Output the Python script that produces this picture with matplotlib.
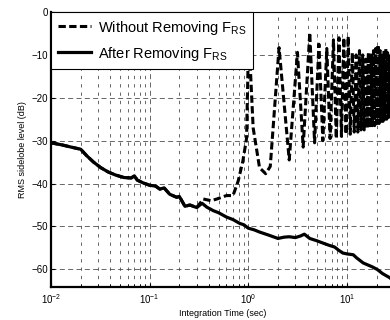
import matplotlib
matplotlib.use("Agg")
import matplotlib.pyplot as plt
from matplotlib.ticker import LogLocator, FixedLocator, NullFormatter

plt.rcParams["font.family"] = ["Liberation Sans", "DejaVu Sans"]
plt.rcParams["mathtext.fontset"] = "custom"
plt.rcParams["mathtext.rm"] = "Liberation Sans"
plt.rcParams["mathtext.it"] = "Liberation Sans:italic"
plt.rcParams["mathtext.default"] = "regular"

# common part of both curves (before they split)
shared_t = [0.01, 0.013, 0.016, 0.02, 0.023, 0.027, 0.032, 0.038, 0.045, 0.055,
            0.065, 0.07, 0.075, 0.085, 0.1, 0.115, 0.127, 0.14, 0.16, 0.188,
            0.2, 0.228, 0.256, 0.3]
shared_db = [-30.5, -31.0, -31.5, -32.0, -33.5, -35.0, -36.3, -37.3, -38.0, -38.6,
             -38.7, -38.2, -39.2, -39.8, -40.4, -40.6, -41.3, -41.0, -42.5, -43.2,
             -43.0, -45.3, -45.0, -45.6]

# after removing F_RS
after_t = [0.34, 0.38, 0.44, 0.5, 0.6, 0.7, 0.82, 0.9, 1.0, 1.15, 1.3, 1.6, 2.0,
           2.3, 2.6, 3.0, 3.4, 3.7, 4.2, 4.9, 5.6, 6.6, 7.5, 8.3, 9.1, 10.0, 11.6,
           12.5, 14.6, 16.0, 18.0, 20.2, 23.0, 27.4, 30.0]
after_db = [-44.6, -45.5, -46.3, -46.8, -47.8, -48.4, -49.3, -49.6, -50.4, -50.8,
            -51.3, -52.0, -52.8, -52.5, -52.4, -52.6, -52.2, -51.8, -52.8, -53.3,
            -53.8, -54.4, -54.8, -55.6, -56.2, -56.4, -56.6, -57.3, -58.5, -58.9,
            -59.4, -60.0, -61.0, -62.0, -63.0]

# without removing F_RS (spikes near every second)
without_t = [0.35, 0.42, 0.48, 0.6, 0.7, 0.79, 0.88, 0.96, 1.01, 1.12, 1.3, 1.5,
             1.67, 2.05, 2.6, 3.15, 3.6, 4.2, 4.7, 5.2, 5.7, 6.25, 6.75, 7.3, 7.8,
             8.3, 8.8, 9.3, 9.8, 10.3, 10.8, 11.35, 11.85, 12.4, 12.9, 13.4, 13.9,
             14.45, 14.95, 15.5, 16.0, 16.5, 17.0, 17.55, 18.05, 18.6, 19.1, 19.6,
             20.1, 20.65, 21.15, 21.7, 22.2, 22.7, 23.2, 23.75, 24.25, 24.8, 25.3,
             25.8, 26.3, 26.85, 27.35, 27.9, 28.4, 29.0, 29.5]
without_db = [-43.6, -44.0, -43.6, -42.8, -42.8, -39.4, -34.8, -29.5, -5.0, -27.0,
              -36.3, -37.7, -36.0, -8.3, -34.5, -9.4, -31.5, -4.8, -30.5, -7.5,
              -30.0, -8.5, -29.5, -6.5, -29.5, -6.0, -29.0, -6.0, -28.5, -5.7,
              -28.5, -9.5, -28.0, -10.0, -28.0, -9.0, -27.5, -10.0, -27.5, -11.0,
              -27.0, -9.5, -27.0, -10.0, -26.5, -9.0, -26.5, -8.5, -26.0, -7.6,
              -26.0, -9.0, -25.5, -10.0, -25.5, -9.0, -25.0, -8.5, -25.0, -9.0,
              -24.5, -10.0, -24.5, -10.0, -24.0, -10.0, -24.0]

y_ticks = [0, -10, -20, -30, -40, -50, -60]
x_major = [1e-2, 1e-1, 1e0, 1e1]

fig = plt.figure(figsize=(3.9, 3.2), dpi=100)
ax = fig.add_axes([51 / 390, 33.5 / 320, 343 / 390, 274.5 / 320])

ax.plot(shared_t + without_t, shared_db + without_db, color="black", lw=2.2,
        ls="--", dashes=(2.4, 1.1), label=r"Without Removing F$_{RS}$")
ax.plot(shared_t + after_t, shared_db + after_db, color="black", lw=2.3,
        label=r"After Removing F$_{RS}$")

ax.set_xscale("log")
ax.set_xlim(1e-2, 30)
ax.set_ylim(-64, 0)
ax.xaxis.set_major_locator(FixedLocator(x_major))
ax.xaxis.set_minor_locator(LogLocator(base=10, subs=range(2, 10)))
ax.xaxis.set_minor_formatter(NullFormatter())
ax.set_yticks(y_ticks)

ax.grid(True, which="major", ls=(0, (6, 4)), color="0.3", lw=0.6)
ax.grid(True, which="minor", axis="x", ls=(0, (4, 6)), color="0.3", lw=0.6)

ax.tick_params(which="both", direction="in", labelsize=7, pad=2)
ax.tick_params(which="major", length=3)
ax.tick_params(which="minor", length=2)
ax.tick_params(axis="x", pad=4)

for side in ("left", "bottom"):
    ax.spines[side].set_linewidth(1.6)
ax.spines["top"].set_linewidth(0.8)

ax.set_xlabel("Integration Time (sec)", fontsize=6.5, labelpad=2)
ax.set_ylabel("RMS sidelobe level (dB)", fontsize=6.5, labelpad=3)

leg = ax.legend(loc="upper left", borderaxespad=0, fontsize=10.5, fancybox=False,
                edgecolor="black", framealpha=1, handlelength=2.3,
                handletextpad=0.45, labelspacing=0.55, borderpad=0.45)
leg.get_frame().set_linewidth(0.8)

fig.savefig("out.png", dpi=100)
